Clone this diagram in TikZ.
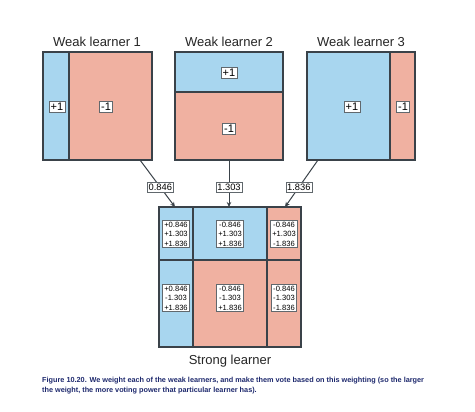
\documentclass[tikz,border=0pt]{standalone}
\usepackage{fontspec}
\setmainfont{Liberation Sans}
\usetikzlibrary{arrows.meta}
\definecolor{bluec}{HTML}{A8D6EF}
\definecolor{redc}{HTML}{F0B1A1}
\definecolor{edgec}{HTML}{3A4249}
\definecolor{capc}{HTML}{1F2A6E}
\tikzset{
  box/.style={draw=edgec, line width=1.6pt, inner sep=0pt},
  divider/.style={draw=edgec, line width=1.4pt},
  tag/.style={draw=edgec!80, fill=white, line width=0.5pt, inner sep=1.5pt, font=\fontsize{11}{13}\selectfont},
  wtag/.style={draw=edgec!80, fill=white, line width=0.5pt, inner sep=1.3pt, font=\fontsize{9.3}{11}\selectfont},
  vtag/.style={draw=edgec!80, fill=white, line width=0.5pt, inner sep=1.6pt, align=center, font=\fontsize{7.6}{9.4}\selectfont},
  title/.style={font=\fontsize{13}{15}\selectfont, text=black!85},
  conn/.style={draw=edgec, line width=1pt, -{Stealth[length=5pt,width=4.5pt]}}
}
\begin{document}
\begin{tikzpicture}[x=1pt,y=-1pt]
\useasboundingbox[fill=white] (0,0) rectangle (475,412);
% Weak learner 1
\fill[bluec] (43,52) rectangle (69,160);
\fill[redc] (69,52) rectangle (152,160);
\draw[divider] (69,52) -- (69,160);
\node[box, minimum width=109pt, minimum height=108pt] (wl1) at (97.5,106) {};
\node[tag] (wl1p) at (57,107) {+1};
\node[tag] (wl1m) at (106,107) {-1};
\node[title] (t1) at (97,42) {Weak learner 1};
% Weak learner 2
\fill[bluec] (175,52) rectangle (283,92);
\fill[redc] (175,92) rectangle (283,160);
\draw[divider] (175,92) -- (283,92);
\node[box, minimum width=108pt, minimum height=108pt] (wl2) at (229,106) {};
\node[tag] (wl2p) at (229,73) {+1};
\node[tag] (wl2m) at (229,129) {-1};
\node[title] (t2) at (229,42) {Weak learner 2};
% Weak learner 3
\fill[bluec] (307,52) rectangle (390,160);
\fill[redc] (390,52) rectangle (415,160);
\draw[divider] (390,52) -- (390,160);
\node[box, minimum width=108pt, minimum height=108pt] (wl3) at (361,106) {};
\node[tag] (wl3p) at (352,107) {+1};
\node[tag] (wl3m) at (403,107) {-1};
\node[title] (t3) at (361,42) {Weak learner 3};
% Strong learner
\fill[bluec] (159,207) rectangle (267,260);
\fill[redc] (267,207) rectangle (301,260);
\fill[bluec] (159,260) rectangle (193,347);
\fill[redc] (193,260) rectangle (301,347);
\draw[divider] (193,207) -- (193,347);
\draw[divider] (267,207) -- (267,347);
\draw[divider] (159,260) -- (301,260);
\node[box, minimum width=142pt, minimum height=140pt] (sl) at (230,277) {};
\node[title] (ts) at (230,361) {Strong learner};
\node[vtag] (c11) at (176,234) {+0.846\\+1.303\\+1.836};
\node[vtag] (c12) at (230,234) {-0.846\\+1.303\\+1.836};
\node[vtag] (c13) at (284,234) {-0.846\\+1.303\\-1.836};
\node[vtag] (c21) at (176,298) {+0.846\\-1.303\\+1.836};
\node[vtag] (c22) at (230,298) {-0.846\\-1.303\\+1.836};
\node[vtag] (c23) at (284,298) {-0.846\\-1.303\\-1.836};
% connectors
\coordinate (a1) at (140,160);
\coordinate (a2) at (229,160);
\coordinate (a3) at (318,160);
\coordinate (b1) at (175,207);
\coordinate (b2) at (229,207);
\coordinate (b3) at (285,207);
\draw[conn] (a1) -- node[wtag, pos=0.58] (w1) {0.846} (b1);
\draw[conn] (a2) -- node[wtag, pos=0.58] (w2) {1.303} (b2);
\draw[conn] (a3) -- node[wtag, pos=0.58] (w3) {1.836} (b3);
% caption
\node[anchor=north west, inner sep=0pt, text=capc, align=left,
      font=\bfseries\fontsize{7.3}{10}\selectfont] (cap) at (42,377)
  {Figure 10.20. We weight each of the weak learners, and make them vote based on this weighting (so the larger\\
   the weight, the more voting power that particular learner has).};
\end{tikzpicture}
\end{document}
